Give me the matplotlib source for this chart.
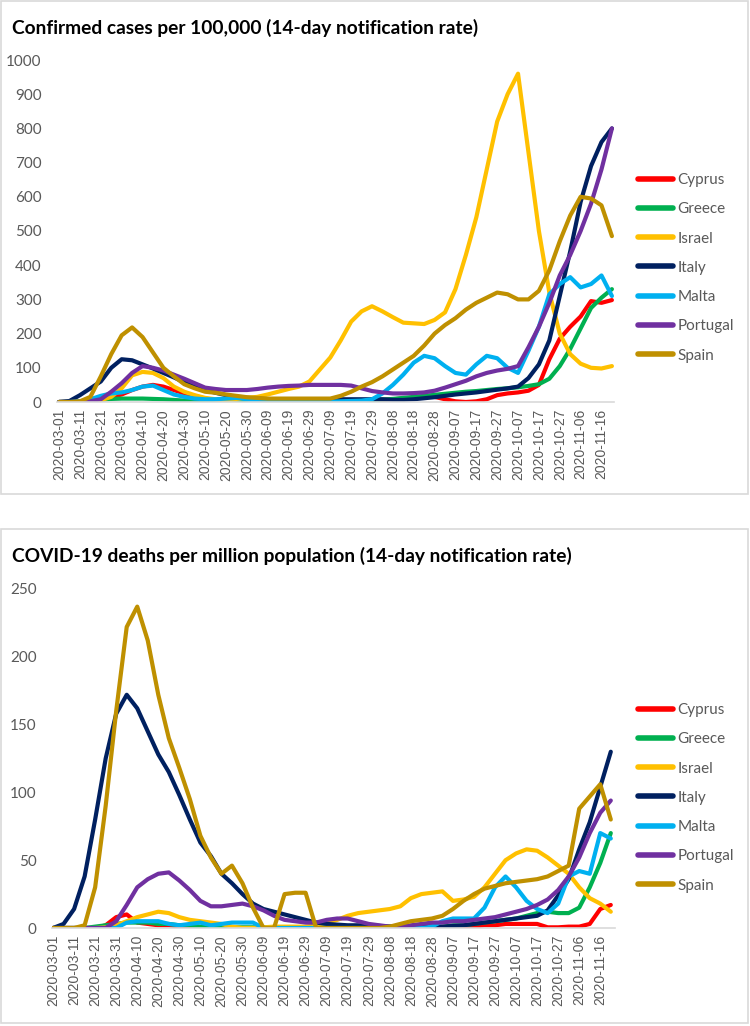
import matplotlib
matplotlib.use("Agg")
import matplotlib.pyplot as plt
from matplotlib.patches import Rectangle
import pandas as pd

# ---------------- data ----------------
countries = ["Cyprus", "Greece", "Israel", "Italy", "Malta", "Portugal", "Spain"]
colors = ["#FF0000", "#00B050", "#FFC000", "#002060", "#00B0F0", "#7030A0", "#BF9000"]

# sample dates: every 5 days from 2020-03-01
sample_dates = pd.date_range("2020-03-01", periods=54, freq="5D")
tick_dates = pd.date_range("2020-03-01", "2020-11-16", freq="10D")

# Confirmed cases per 100,000 (14-day notification rate)
cyprus_cases = [0, 0, 1, 3, 8, 15, 22, 35, 45, 50, 45, 35, 25, 18, 10, 6, 4, 3, 3, 2,
                2, 2, 2, 2, 2, 2, 2, 2, 3, 4, 5, 6, 8, 10, 12, 15, 15, 8, 2, 0,
                2, 8, 20, 25, 28, 33, 50, 125, 185, 220, 250, 295, 290, 298]
greece_cases = [0, 0, 1, 3, 6, 9, 10, 10, 10, 9, 8, 6, 4, 3, 2, 2, 2, 2, 2, 2,
                2, 2, 2, 2, 2, 2, 2, 3, 3, 4, 5, 7, 9, 12, 15, 18, 21, 24, 27, 30,
                32, 35, 38, 40, 43, 47, 52, 68, 105, 155, 215, 275, 305, 330]
israel_cases = [0, 0, 0, 2, 5, 15, 40, 78, 88, 85, 70, 45, 30, 20, 12, 8, 5, 8, 12, 15,
                22, 30, 38, 45, 60, 95, 130, 180, 235, 265, 280, 265, 248, 232, 230, 228, 240, 262, 330, 430,
                540, 680, 820, 900, 960, 730, 500, 320, 200, 140, 112, 100, 98, 105]
italy_cases = [0, 3, 20, 40, 60, 100, 125, 122, 110, 98, 85, 72, 58, 45, 35, 27, 20, 15, 12, 10,
               8, 7, 6, 6, 6, 6, 7, 8, 8, 8, 8, 8, 6, 6, 8, 11, 14, 18, 22, 25,
               28, 32, 36, 40, 45, 70, 110, 180, 310, 440, 585, 690, 760, 800]
malta_cases = [0, 0, 2, 8, 18, 25, 28, 35, 45, 48, 35, 22, 15, 10, 8, 8, 10, 12, 8, 3,
               2, 1, 1, 1, 1, 1, 1, 2, 3, 4, 8, 25, 50, 80, 115, 135, 128, 105, 85, 80,
               110, 135, 128, 100, 85, 150, 220, 315, 345, 365, 335, 345, 370, 310]
portugal_cases = [0, 0, 0, 2, 8, 30, 55, 85, 105, 100, 92, 80, 68, 55, 42, 38, 35, 35, 35, 38,
                  42, 45, 47, 48, 50, 50, 50, 50, 48, 40, 32, 28, 25, 25, 26, 28, 33, 42, 52, 62,
                  75, 85, 92, 97, 105, 160, 220, 290, 370, 430, 500, 580, 680, 800]
spain_cases = [0, 0, 2, 15, 75, 140, 195, 218, 190, 145, 100, 75, 52, 40, 30, 27, 22, 18, 14, 12,
               10, 10, 10, 10, 10, 10, 10, 18, 30, 45, 58, 75, 95, 115, 135, 165, 200, 225, 245, 270,
               290, 305, 320, 315, 300, 300, 325, 385, 470, 545, 600, 595, 575, 485]

# COVID-19 deaths per million population (14-day notification rate)
cyprus_deaths = [0, 0, 0, 0, 0, 2, 8, 10, 4, 3, 2, 2, 1, 0, 0, 0, 0, 0, 0, 0,
                 0, 0, 0, 0, 0, 0, 0, 0, 0, 0, 0, 0, 0, 0, 0, 0, 0, 0, 0, 0.5,
                 1, 2, 2, 3, 3, 3, 3, 0.5, 0.5, 1, 1, 3, 14, 17]
greece_deaths = [0, 0, 0, 0, 1, 2, 3, 4, 4, 4, 3, 3, 2, 2, 1, 1, 1, 0.5, 0.5, 0.5,
                 0.5, 0.5, 0.5, 0.5, 0.5, 0.5, 0.5, 0.5, 0.5, 0.5, 0.5, 0.5, 1, 1, 1, 1, 1, 1, 2, 2,
                 3, 4, 5, 6, 7, 9, 11, 12, 11, 11, 15, 30, 48, 70]
israel_deaths = [0, 0, 0, 0, 0, 0.5, 2, 5, 8, 10, 12, 11, 8, 6, 5, 4, 3, 1, 0, 0,
                 0.5, 1, 1, 1, 1, 2, 4, 6, 9, 11, 12, 13, 14, 16, 22, 25, 26, 27, 20, 21,
                 23, 30, 40, 50, 55, 58, 57, 52, 46, 40, 30, 22, 18, 12]
italy_deaths = [0, 3, 14, 38, 80, 125, 158, 172, 162, 145, 128, 115, 98, 80, 63, 53, 40, 33, 25, 18,
                14, 12, 10, 8, 6, 4, 3, 2.5, 2, 2, 2, 1.5, 1, 1, 1, 1, 1, 1, 1.5, 2,
                3, 4, 5, 6, 7, 8, 9, 13, 24, 36, 58, 78, 104, 130]
malta_deaths = [0, 0, 0, 0, 0, 0, 0, 4, 5, 5, 5, 3, 2, 3, 4, 2, 3, 4, 4, 4,
                0, 0, 0, 0, 0, 0, 0, 0, 0, 0, 0, 0, 0, 0, 0, 0, 1, 5, 7, 7,
                7, 15, 30, 38, 30, 20, 14, 11, 18, 38, 42, 40, 70, 66]
portugal_deaths = [0, 0, 0, 0, 0, 0, 5, 17, 30, 36, 40, 41, 35, 28, 20, 16, 16, 17, 18, 16,
                   13, 9, 6, 5, 4, 4, 6, 7, 7, 5, 3, 2, 1, 1, 2, 3, 4, 4, 5, 5,
                   6, 7, 8, 10, 12, 14, 17, 21, 28, 38, 52, 70, 85, 94]
spain_deaths = [0, 0, 0, 2, 30, 90, 160, 222, 237, 212, 172, 140, 118, 95, 68, 52, 40, 46, 33, 15,
                0, 0, 25, 26, 26, 0, 0, 0, 0, 0, 0, 0, 1, 3, 5, 6, 7, 9, 14, 20,
                25, 29, 31, 33, 34, 35, 36, 38, 42, 46, 88, 97, 106, 80]

cases = [cyprus_cases, greece_cases, israel_cases, italy_cases, malta_cases, portugal_cases, spain_cases]
deaths = [cyprus_deaths, greece_deaths, israel_deaths, italy_deaths, malta_deaths, portugal_deaths, spain_deaths]

title_top = "Confirmed cases per 100,000 (14-day notification rate)"
title_bottom = "COVID-19 deaths per million population (14-day notification rate)"
yticks_top = [0, 100, 200, 300, 400, 500, 600, 700, 800, 900, 1000]
yticks_bottom = [0, 50, 100, 150, 200, 250]

# ---------------- figure ----------------
W, H = 750, 1026
fig = plt.figure(figsize=(W / 100, H / 100), dpi=100)

def fx(px):
    return px / W

def fy(py):
    return 1 - py / H

# panel borders
for (x0, y0, x1, y1) in [(1, 1, 748, 494), (1, 529, 748, 1023)]:
    fig.patches.append(Rectangle((fx(x0), fy(y1)), fx(x1 - x0), (y1 - y0) / H,
                                 transform=fig.transFigure, fill=False,
                                 edgecolor="#D9D9D9", linewidth=1.2))

tick_color = "#595959"
start = pd.Timestamp("2020-03-01")


def make_panel(ax_rect, series_list, yticks, ymax, xl, xr, title, title_y, legend_top):
    ax = fig.add_axes(ax_rect)
    for name, col, vals in zip(countries, colors, series_list):
        ax.plot(sample_dates, vals, color=col, linewidth=3.0, label=name,
                solid_joinstyle="round", solid_capstyle="round")
    ax.set_ylim(0, ymax)
    ax.set_xlim(start + pd.Timedelta(days=xl), start + pd.Timedelta(days=xr))
    ax.set_yticks(yticks)
    ax.set_yticklabels([str(v) for v in yticks], fontfamily="Lato", fontsize=11,
                       color=tick_color)
    ax.set_xticks(tick_dates)
    ax.set_xticklabels([d.strftime("%Y-%m-%d") for d in tick_dates], rotation=90,
                       fontfamily="Liberation Sans", fontsize=10, color=tick_color)
    ax.tick_params(axis="both", length=0)
    ax.tick_params(axis="y", pad=11)
    ax.tick_params(axis="x", pad=5)
    for s in ["top", "right", "left"]:
        ax.spines[s].set_visible(False)
    ax.spines["bottom"].set_color("#D9D9D9")
    ax.spines["bottom"].set_linewidth(1.2)
    fig.text(fx(12), fy(title_y), title, fontfamily="Lato", fontweight="bold",
             fontsize=13.8, va="center", ha="left", color="black")
    leg = ax.legend(loc="upper left", bbox_to_anchor=(fx(638), fy(legend_top)),
                    bbox_transform=fig.transFigure, frameon=False,
                    prop={"family": "Lato", "size": 11}, handlelength=2.3,
                    handletextpad=0.3, labelspacing=1.0, borderpad=0,
                    borderaxespad=0)
    for line in leg.get_lines():
        line.set_linewidth(4)
    for t in leg.get_texts():
        t.set_color(tick_color)
    return ax

make_panel([fx(57), fy(402), fx(614 - 57), (402 - 60) / H], cases, yticks_top, 1000,
           -1, 266, title_top, 28, 173)
make_panel([fx(52), fy(928), fx(615 - 52), (928 - 589) / H], deaths, yticks_bottom, 250,
           -0.5, 267, title_bottom, 556, 703)

fig.savefig("out.png", dpi=100)
